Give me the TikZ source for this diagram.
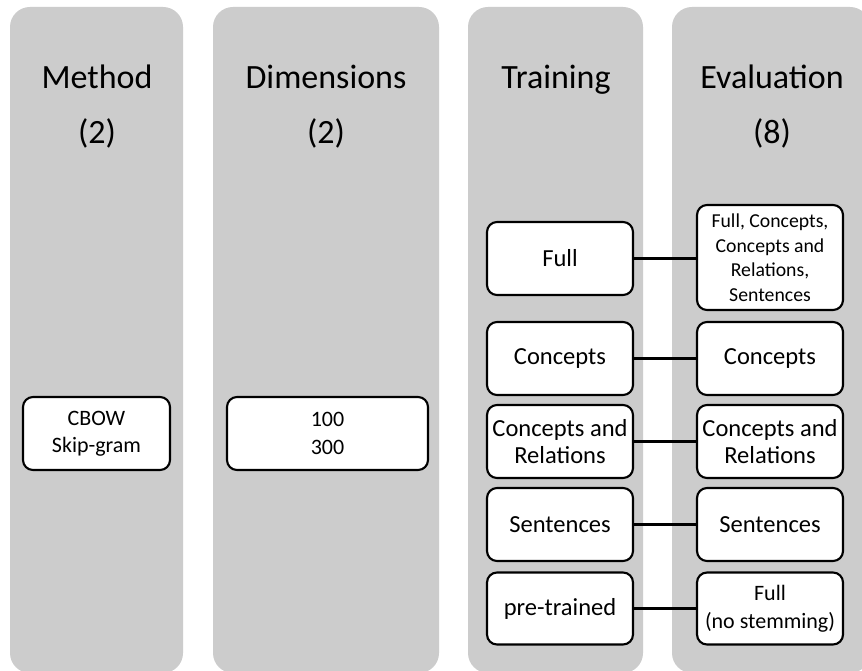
\documentclass[tikz,border=0pt]{standalone}
\usepackage{fontspec}
\setmainfont{Carlito}
\definecolor{colgray}{RGB}{204,204,204}
\begin{document}
\begin{tikzpicture}[x=0.75pt,y=-0.75pt,
  column/.style={fill=colgray,rounded corners=15pt},
  title/.style={anchor=base,inner sep=0pt,font=\fontsize{25.5}{30}\selectfont},
  item/.style={draw=black,line width=1.6pt,fill=white,rounded corners=7.5pt,
    minimum width=#1,align=center,inner sep=0pt,
    font=\fontsize{18.4}{20.6}\selectfont},
  item/.default=109.5pt,
  link/.style={line width=2.4pt,black}]
\useasboundingbox (0,0) rectangle (862,670);
\fill[white] (0,0) rectangle (862,670);
\clip (0,0) rectangle (862,670);

% grey columns
\fill[column] (10,7) rectangle (183,673);
\fill[column] (213,7) rectangle (439,673);
\fill[column] (468,7) rectangle (643,673);
\fill[column] (672,7) rectangle (870,673);

% column headings
\node[title] (h1) at (97,89) {Method};
\node[title] (h1n) at (97,144) {(2)};
\node[title] (h2) at (326,89) {Dimensions};
\node[title] (h2n) at (326,144) {(2)};
\node[title] (h3) at (556,89) {Training};
\node[title] (h4) at (772,89) {Evaluation};
\node[title] (h4n) at (772,144) {(8)};

% method and dimension choices
\node[item=110.25pt,minimum height=54.75pt,font=\fontsize{16.5}{20.5}\selectfont]
  (method) at (96.5,433.5) {CBOW\\Skip-gram};
\node[item=150.75pt,minimum height=54.75pt,font=\fontsize{16.5}{20.5}\selectfont]
  (dims) at (327.5,433.5) {100\\300};

% training corpora
\node[item,minimum height=54.75pt] (tfull) at (560,258.5) {Full};
\node[item,minimum height=54.75pt] (tconc) at (560,358.5) {Concepts};
\node[item,minimum height=54.75pt] (trel)  at (560,441.5) {Concepts and\\Relations};
\node[item,minimum height=54.75pt] (tsent) at (560,524.5) {Sentences};
\node[item,minimum height=54pt]    (tpre)  at (560,608.5) {pre-trained};

% evaluation sets
\node[item,minimum height=78.75pt,font=\fontsize{14.8}{18.4}\selectfont]
  (efull) at (770,257.5) {Full, Concepts,\\Concepts and\\Relations,\\Sentences};
\node[item,minimum height=54.75pt] (econc) at (770,358.5) {Concepts};
\node[item,minimum height=54.75pt] (erel)  at (770,441.5) {Concepts and\\Relations};
\node[item,minimum height=54.75pt] (esent) at (770,524.5) {Sentences};
\node[item,minimum height=54pt,font=\fontsize{16.5}{21}\selectfont]
  (epre) at (770,608.5) {Full\\(no stemming)};

% training -> evaluation links
\draw[link] (tfull.east) -- (tfull.east -| efull.west);
\draw[link] (tconc) -- (econc);
\draw[link] (trel) -- (erel);
\draw[link] (tsent) -- (esent);
\draw[link] (tpre) -- (epre);
\end{tikzpicture}
\end{document}
